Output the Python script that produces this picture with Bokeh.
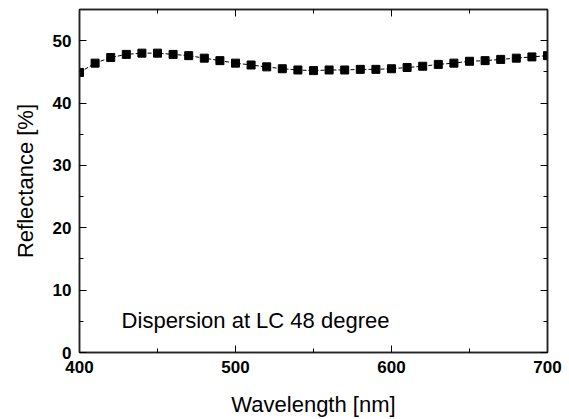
from bokeh.plotting import figure
from bokeh.models import LinearAxis, Range1d, Label, FixedTicker, CustomJSTickFormatter
from bokeh.embed import file_html
from bokeh.resources import INLINE

wavelength = [400, 410, 420, 430, 440, 450, 460, 470, 480, 490, 500,
              510, 520, 530, 540, 550, 560, 570, 580, 590, 600,
              610, 620, 630, 640, 650, 660, 670, 680, 690, 700]
reflectance = [44.9, 46.4, 47.3, 47.8, 48.0, 48.0, 47.8, 47.6, 47.2, 46.8, 46.4,
               46.1, 45.8, 45.5, 45.3, 45.2, 45.3, 45.3, 45.4, 45.4, 45.5,
               45.7, 45.9, 46.2, 46.4, 46.7, 46.8, 47.0, 47.2, 47.4, 47.6]
x_ticks = [400, 500, 600, 700]
x_minor = [450, 550, 650]
y_ticks = [0, 10, 20, 30, 40, 50]
y_minor = [5, 15, 25, 35, 45]

FONT = "Liberation Sans"

p = figure(width=569, height=419, output_backend="svg", toolbar_location=None,
           x_range=Range1d(400, 700), y_range=Range1d(0, 55),
           min_border_left=79, min_border_right=22, min_border_top=9, min_border_bottom=65)
p.grid.visible = False
p.outline_line_color = "#222222"
p.outline_line_width = 1.5
p.background_fill_color = "white"
p.border_fill_color = "white"

p.line(wavelength, reflectance, line_color="black", line_width=1, line_dash="4 2")
p.scatter(wavelength, reflectance, marker="square", size=8, fill_color="black", line_color="black")

def style(ax):
    ax.major_tick_in = 7
    ax.major_tick_out = 0
    ax.minor_tick_in = 4
    ax.minor_tick_out = 0
    ax.axis_line_color = "#222222"
    ax.axis_line_width = 1.5
    ax.major_tick_line_color = "black"
    ax.minor_tick_line_color = "black"
    ax.major_label_text_font = FONT
    ax.major_label_text_font_style = "bold"
    ax.major_label_text_font_size = "17px"
    ax.major_label_text_color = "black"
    ax.axis_label_text_font = FONT
    ax.axis_label_text_font_style = "normal"
    ax.axis_label_text_font_size = "22px"
    ax.axis_label_text_color = "black"

xa = p.xaxis[0]
xa.ticker = FixedTicker(ticks=x_ticks, minor_ticks=x_minor)
xa.axis_label = "Wavelength [nm]"
style(xa)
xa.major_label_standoff = 8
xa.axis_label_standoff = 16

ya = p.yaxis[0]
ya.ticker = FixedTicker(ticks=y_ticks, minor_ticks=y_minor)
ya.axis_label = "Reflectance [%]"
style(ya)
ya.major_label_standoff = 8
ya.axis_label_standoff = 12

blank = CustomJSTickFormatter(code="return '';")
top = LinearAxis(ticker=FixedTicker(ticks=x_ticks, minor_ticks=x_minor), formatter=blank)
style(top)
top.major_label_standoff = 0
p.add_layout(top, "above")
right = LinearAxis(ticker=FixedTicker(ticks=y_ticks, minor_ticks=y_minor), formatter=blank)
style(right)
right.major_label_standoff = 0
p.add_layout(right, "right")

p.add_layout(Label(x=427, y=5.1, text="Dispersion at LC 48 degree",
                   text_font=FONT, text_font_size="22px", text_color="black",
                   text_baseline="alphabetic"))

open("out.html", "w").write(file_html(p, INLINE))
